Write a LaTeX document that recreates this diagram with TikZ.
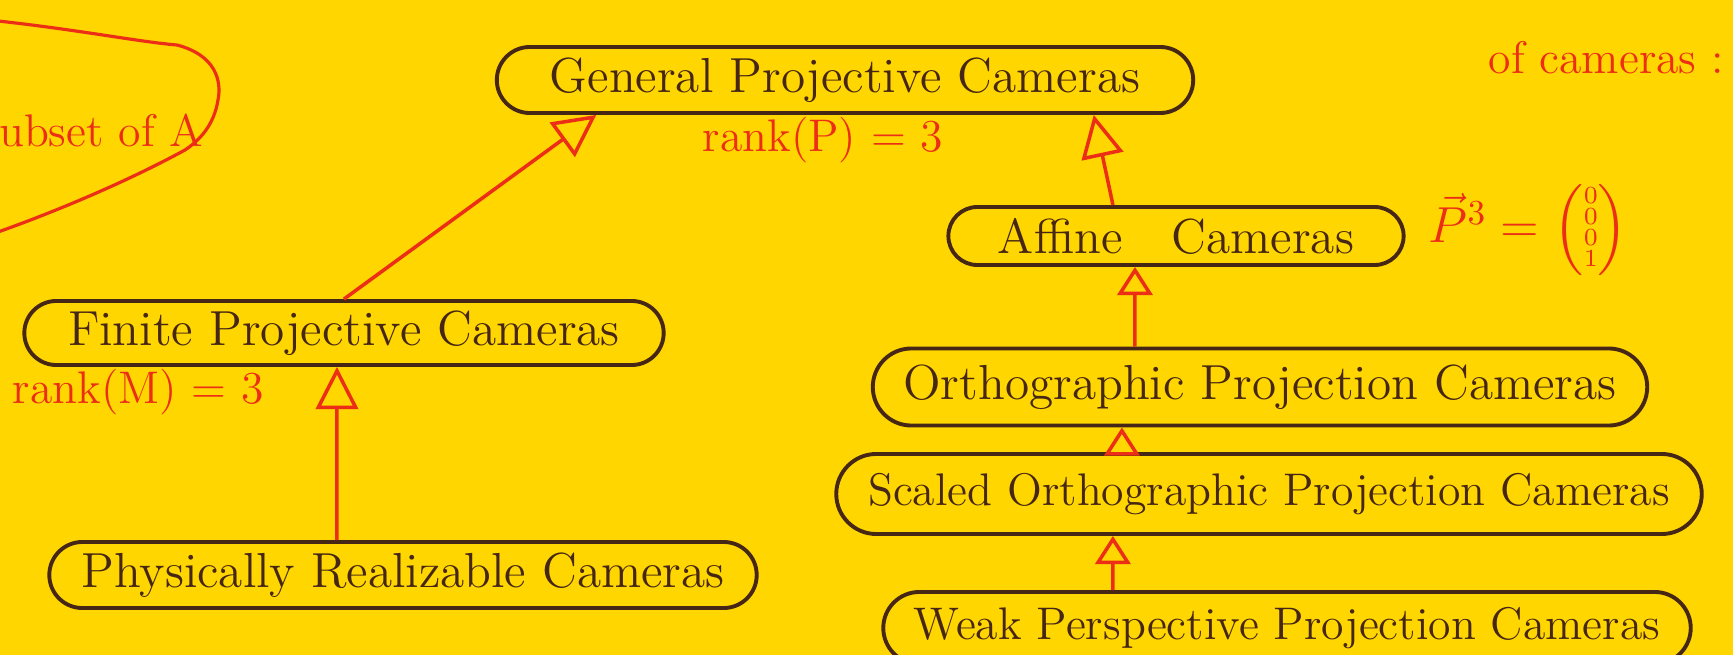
\documentclass[tikz,border=0pt]{standalone}
\usepackage{amsmath}
\usepackage{tikz}
\usetikzlibrary{shapes.misc, arrows.meta, positioning}

\definecolor{paper}{RGB}{255,214,0}
\definecolor{ink}{RGB}{70,38,20}
\definecolor{redink}{RGB}{236,46,22}

\begin{document}
\begin{tikzpicture}[x=0.01cm, y=-0.01cm]
    % Paper and fixed frame
    \useasboundingbox (0,0) rectangle (1733,655);
    \fill[paper] (0,0) rectangle (1733,655);
    % Default looks for each camera class
    \tikzstyle{cam}=[draw=ink, text=ink, shape=rounded rectangle, line width=1.1pt,
        inner sep=0pt, font=\fontsize{14}{16}\selectfont];
    \tikzstyle{note}=[text=redink, inner sep=0pt, font=\fontsize{13}{15}\selectfont];
    \tikzstyle{isa}=[draw=redink, line width=1pt, -{Triangle[open, length=12pt, width=12pt]}];
    \tikzstyle{short isa}=[isa, -{Triangle[open, length=8pt, width=10pt]}];
    % Camera classes
    \node [cam, minimum width=6.96cm, minimum height=0.66cm] (gen) at (845,80) {General Projective Cameras};
    \node [cam, minimum width=6.39cm, minimum height=0.64cm] (fin) at (344,333) {Finite Projective Cameras};
    \node [cam, minimum width=7.07cm, minimum height=0.66cm] (phys) at (403,575) {Physically Realizable Cameras};
    \node [cam, minimum width=4.55cm, minimum height=0.58cm] (aff) at (1176,236) {Affine\quad Cameras};
    \node [cam, minimum width=7.74cm, minimum height=0.77cm] (ortho) at (1260,387) {Orthographic Projection Cameras};
    \node [cam, minimum width=8.65cm, minimum height=0.80cm, font=\fontsize{13}{15}\selectfont] (scaled) at (1269,494) {Scaled Orthographic Projection Cameras};
    \node [cam, minimum width=8.07cm, minimum height=0.72cm, font=\fontsize{13}{15}\selectfont] (weak) at (1287,628) {Weak Perspective Projection Cameras};

    % Red notes
    \node [note] (rankP) at (823,140) {rank(P) = 3};
    \node [note, anchor=west] (rankM) at (12,392) {rank(M) = 3};
    \node [note, anchor=west, font=\fontsize{14}{16}\selectfont] (pvec) at (1428,230) {$\vec{P}^{3} = \left(\vcenter{\hbox{\scriptsize\renewcommand{\arraystretch}{0.62}$\begin{array}{@{}c@{}}0\\0\\0\\1\end{array}$}}\right)$};
    \node [note, anchor=west] (ofcam) at (1488,58) {of cameras :};
    \node [note, anchor=east] (subset) at (204,130) {subset of A};
    \draw [redink, line width=0.9pt] (-2,21) .. controls (80,30) and (140,42) .. (177,45)
        .. controls (215,55) and (222,80) .. (218,100)
        .. controls (214,125) and (200,140) .. (185,150)
        .. controls (130,180) and (60,210) .. (-2,232);

    % Generalisation arrows
    \draw [isa] (fin.north) -- (gen.188);
    \draw [isa] ([xshift=-0.63cm]aff.north) -- (gen.-8);
    \draw [isa] ([xshift=-0.66cm]phys.north) -- ([xshift=-0.07cm]fin.south);
    \draw [short isa] ([xshift=-1.25cm]ortho.north) -- ([xshift=-0.41cm]aff.south);
    \draw [short isa] ([xshift=-1.47cm]scaled.north) -- ([xshift=-1.38cm]ortho.south);
    \draw [short isa] ([xshift=-1.74cm]weak.north) -- ([xshift=-1.56cm]scaled.south);
\end{tikzpicture}
\end{document}
